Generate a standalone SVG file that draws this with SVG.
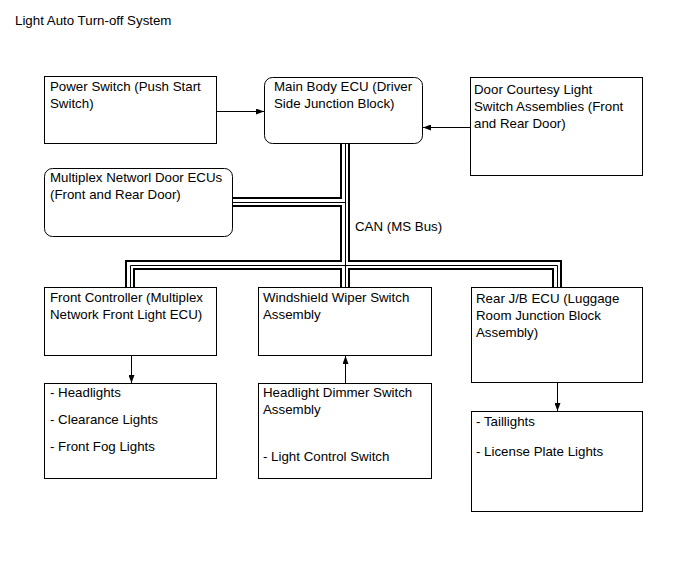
<svg xmlns="http://www.w3.org/2000/svg" width="690" height="562" viewBox="0 0 690 562">
<style>
text{font-family:"Liberation Sans",Arial,sans-serif;font-size:13.3px;fill:#000}
.box{fill:#fff;stroke:#000;stroke-width:1}
.arr{fill:none;stroke:#000;stroke-width:1;marker-end:url(#ah)}
.b1{fill:none;stroke:#000;stroke-width:10;stroke-linejoin:miter}
.b2{fill:none;stroke:#fff;stroke-width:6;stroke-linejoin:miter}
.b3{fill:none;stroke:#000;stroke-width:1;stroke-linejoin:miter}
</style>
<defs>
<marker id="ah" markerWidth="8" markerHeight="6" refX="8" refY="3" orient="auto" markerUnits="userSpaceOnUse">
<path d="M0,0 L8,3 L0,6 z" fill="#000"/>
</marker>
</defs>
<rect width="690" height="562" fill="#fff"/>
<text x="15" y="25">Light Auto Turn-off System</text>

<g id="connectors">
<g id="bus">
<path class="b1" d="M345 144 V287 M130 287 V265 H557 V287 M232 202 H345"/>
<path class="b2" d="M345 144 V287 M130 287 V265 H557 V287 M232 202 H345"/>
<path class="b3" transform="translate(0.5,0.5)" d="M345 143 V287 M130 287 V265 H557 V287 M232 202 H345"/>
</g>
<path class="arr" d="M217 111.5 H264"/>
<path class="arr" d="M470 127.5 H423"/>
<path class="arr" d="M131.5 356 V383"/>
<path class="arr" d="M345.5 383 V356"/>
<path class="arr" d="M557.5 383 V411"/>
<text x="355" y="231">CAN (MS Bus)</text>
</g>

<g id="power-switch">
<rect class="box" x="44.5" y="76.5" width="172" height="67"/>
<text x="50" y="91">Power Switch (Push Start</text>
<text x="50" y="108">Switch)</text>
</g>
<g id="main-body-ecu">
<rect class="box" x="264.5" y="77.5" width="158" height="66" rx="8"/>
<text x="274" y="91">Main Body ECU (Driver</text>
<text x="274" y="108">Side Junction Block)</text>
</g>
<g id="door-courtesy">
<rect class="box" x="470.5" y="77.5" width="172" height="98"/>
<text x="474" y="94">Door Courtesy Light</text>
<text x="474" y="111">Switch Assemblies (Front</text>
<text x="474" y="128">and Rear Door)</text>
</g>
<g id="multiplex-door-ecus">
<rect class="box" x="44.5" y="168.5" width="188" height="68" rx="8"/>
<text x="50" y="182">Multiplex Networl Door ECUs</text>
<text x="50" y="199">(Front and Rear Door)</text>
</g>
<g id="front-controller">
<rect class="box" x="44.5" y="287.5" width="172" height="68"/>
<text x="50" y="302">Front Controller (Multiplex</text>
<text x="50" y="319">Network Front Light ECU)</text>
</g>
<g id="windshield-wiper">
<rect class="box" x="258.5" y="287.5" width="173" height="68"/>
<text x="263" y="302">Windshield Wiper Switch</text>
<text x="263" y="319">Assembly</text>
</g>
<g id="rear-jb-ecu">
<rect class="box" x="471.5" y="287.5" width="171" height="95"/>
<text x="476" y="303">Rear J/B ECU (Luggage</text>
<text x="476" y="320">Room Junction Block</text>
<text x="476" y="337">Assembly)</text>
</g>
<g id="front-lights">
<rect class="box" x="44.5" y="383.5" width="172" height="95"/>
<text x="50" y="397">- Headlights</text>
<text x="50" y="424">- Clearance Lights</text>
<text x="50" y="451">- Front Fog Lights</text>
</g>
<g id="headlight-dimmer">
<rect class="box" x="258.5" y="383.5" width="173" height="95"/>
<text x="263" y="397">Headlight Dimmer Switch</text>
<text x="263" y="414">Assembly</text>
<text x="263" y="461">- Light Control Switch</text>
</g>
<g id="rear-lights">
<rect class="box" x="471.5" y="411.5" width="171" height="100"/>
<text x="476" y="426">- Taillights</text>
<text x="476" y="456">- License Plate Lights</text>
</g>
</svg>
